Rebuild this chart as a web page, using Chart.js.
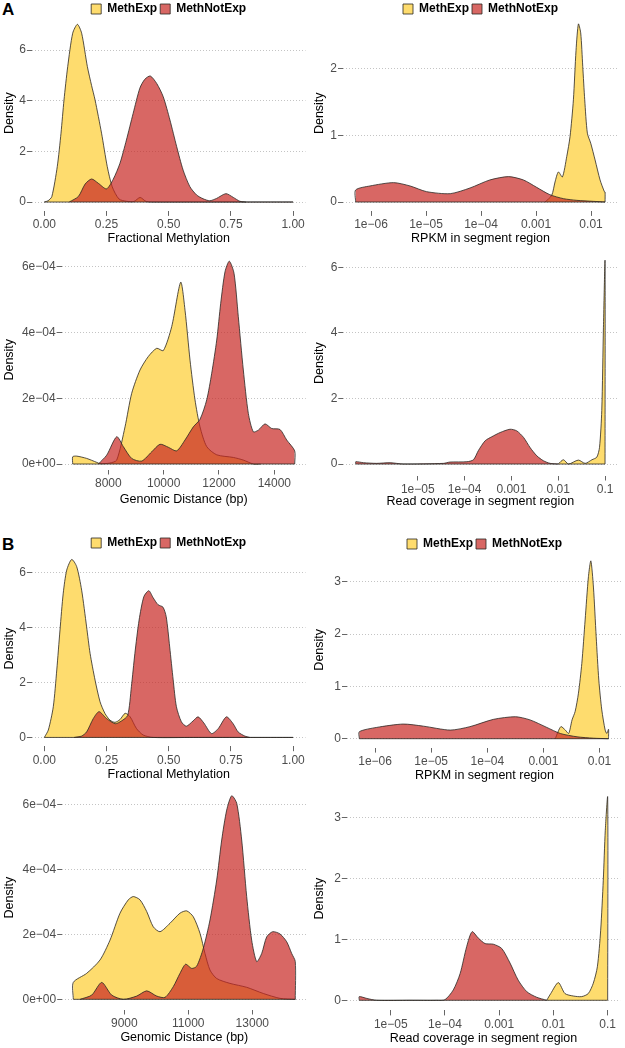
<!DOCTYPE html>
<html>
<head>
<meta charset="utf-8">
<script src="https://cdn.jsdelivr.net/npm/chart.js@4/dist/chart.umd.min.js"></script>
<style>
  body { margin: 0; background: #fff; width: 625px; height: 1048px; position: relative; overflow: hidden;
         font-family: "Liberation Sans", Arial, sans-serif; }
  .tag { position: absolute; font-weight: bold; font-size: 17px; line-height: 17px; color: #000; }
  .cell { position: absolute; }
</style>
</head>
<body>
<div class="tag" style="left:2px;top:1px">A</div>
<div class="tag" style="left:2px;top:536px">B</div>

<script>
const seriesNames = ['MethExp', 'MethNotExp'];

// ---- A: fractional methylation
const fracA_expX = [0, 0.015, 0.03, 0.052, 0.067, 0.079, 0.094, 0.114, 0.133, 0.15, 0.173, 0.19, 0.204, 0.23, 0.253, 0.273, 0.3, 0.33, 0.36, 0.385, 0.41, 0.45, 0.6, 1.0];
const fracA_expY = [0, 0.05, 0.21, 1.4, 2.72, 4.03, 5.35, 6.67, 7.02, 6.67, 5.35, 4.6, 4.03, 2.72, 1.4, 0.6, 0.12, 0.03, 0.02, 0.18, 0.02, 0, 0, 0];
const fracA_notX = [0.1, 0.137, 0.164, 0.19, 0.217, 0.25, 0.277, 0.304, 0.33, 0.357, 0.384, 0.404, 0.426, 0.452, 0.478, 0.505, 0.532, 0.558, 0.585, 0.612, 0.638, 0.665, 0.692, 0.73, 0.76, 0.786, 0.81];
const fracA_notY = [0, 0.22, 0.71, 0.91, 0.74, 0.52, 0.9, 1.53, 2.45, 3.5, 4.5, 4.85, 4.98, 4.68, 4.16, 3.24, 2.19, 1.26, 0.61, 0.28, 0.13, 0.05, 0.14, 0.33, 0.18, 0.03, 0];

// ---- A: RPKM (log10 of the value)
const rpkmA_expLog = [-2.836, -2.715, -2.655, -2.594, -2.521, -2.442, -2.382, -2.321, -2.273, -2.23, -2.188, -2.151, -2.115, -2.067, -2.006, -1.927, -1.836, -1.758, -1.745, -1.745];
const rpkmA_expY = [0, 0.1, 0.3, 0.45, 0.375, 0.68, 0.98, 1.53, 2.27, 2.665, 2.53, 2.03, 1.53, 1.03, 0.88, 0.63, 0.33, 0.155, 0.15, 0];
const rpkmA_notLog = [-6.28, -6.28, -6.02, -5.59, -5.29, -4.99, -4.56, -4.2, -3.84, -3.5, -3.23, -2.99, -2.75, -2.5, -2.26, -1.96, -1.745];
const rpkmA_notY = [0, 0.18, 0.24, 0.29, 0.24, 0.155, 0.125, 0.21, 0.33, 0.38, 0.33, 0.22, 0.11, 0.05, 0.025, 0.01, 0];

// ---- A: genomic distance
const distA_expX = [6713, 6713, 6857, 7219, 7581, 7701, 8061, 8304, 8604, 8845, 9146, 9446, 9749, 9988, 10291, 10616, 10772, 10953, 11133, 11314, 11556, 11918, 12518, 12879, 13240, 13500];
const distA_expY = [0, 0.22e-4, 0.24e-4, 0.17e-4, 0.05e-4, 0.01e-4, 0.03e-4, 0.12e-4, 1.13e-4, 2.15e-4, 2.86e-4, 3.27e-4, 3.52e-4, 3.45e-4, 4.18e-4, 5.53e-4, 4.68e-4, 3.16e-4, 1.95e-4, 1.13e-4, 0.53e-4, 0.28e-4, 0.2e-4, 0.12e-4, 0, 0];
const distA_notX = [7639, 7942, 8304, 8542, 8845, 9207, 9568, 9868, 10168, 10470, 10772, 11072, 11314, 11556, 11737, 11918, 12062, 12218, 12373, 12543, 12698, 12879, 13060, 13240, 13421, 13663, 13905, 14205, 14447, 14736, 14736];
const distA_notY = [0, 0.27e-4, 0.83e-4, 0.53e-4, 0.17e-4, 0.09e-4, 0.37e-4, 0.6e-4, 0.51e-4, 0.4e-4, 0.73e-4, 1.13e-4, 1.36e-4, 1.95e-4, 2.76e-4, 3.77e-4, 4.89e-4, 5.85e-4, 6.17e-4, 5.8e-4, 4.48e-4, 2.86e-4, 1.54e-4, 0.98e-4, 1.03e-4, 1.22e-4, 1.08e-4, 1.05e-4, 0.73e-4, 0.4e-4, 0];

// ---- A: read coverage (log10 of the value)
const covA_expLog = [-2.0, -1.89, -1.78, -1.57, -1.425, -1.28, -1.175, -1.118, -1.07, -1.034, -1.0, -1.0];
const covA_expY = [0, 0.13, 0, 0.12, 0.02, 0.13, 0.21, 0.51, 1.63, 4.17, 6.19, 0];
const covA_notLog = [-6.325, -6.325, -6.16, -5.88, -5.59, -5.31, -4.45, -4.31, -3.95, -3.81, -3.705, -3.56, -3.42, -3.24, -3.03, -2.885, -2.74, -2.6, -2.457, -2.316, -2.173, -2.0];
const covA_notY = [0, 0.07, 0.04, 0.02, 0.04, 0, 0.02, 0.06, 0.07, 0.13, 0.41, 0.71, 0.83, 0.96, 1.06, 1.01, 0.81, 0.5, 0.25, 0.1, 0.02, 0];

// ---- B: fractional methylation
const fracB_expX = [0, 0.016, 0.036, 0.05, 0.063, 0.076, 0.09, 0.11, 0.13, 0.15, 0.17, 0.184, 0.204, 0.224, 0.244, 0.264, 0.284, 0.304, 0.325, 0.345, 0.37, 0.397, 0.437, 0.6, 1.0];
const fracB_expY = [0, 0.27, 1.12, 2.46, 3.92, 5.26, 6.1, 6.49, 6.23, 5.37, 4.03, 3.06, 2.09, 1.3, 0.87, 0.63, 0.55, 0.65, 0.88, 0.75, 0.33, 0.09, 0, 0, 0];
const fracB_notX = [0.12, 0.15, 0.17, 0.197, 0.22, 0.25, 0.285, 0.31, 0.335, 0.35, 0.364, 0.381, 0.4, 0.42, 0.437, 0.457, 0.477, 0.49, 0.504, 0.518, 0.531, 0.551, 0.571, 0.598, 0.618, 0.641, 0.672, 0.699, 0.732, 0.759, 0.779, 0.806, 0.826];
const fracB_notY = [0, 0.05, 0.2, 0.69, 0.94, 0.69, 0.5, 0.6, 0.8, 1.85, 3.06, 4.28, 5.13, 5.35, 5.1, 4.84, 4.75, 4.4, 3.3, 2.1, 1.12, 0.57, 0.41, 0.6, 0.75, 0.53, 0.14, 0.32, 0.75, 0.5, 0.2, 0.05, 0];

// ---- B: RPKM (log10 of the value)
const rpkmB_expLog = [-2.79, -2.69, -2.61, -2.55, -2.49, -2.435, -2.376, -2.316, -2.257, -2.198, -2.155, -2.109, -2.06, -2.013, -1.96, -1.9, -1.87, -1.84, -1.84];
const rpkmB_expY = [0, 0.23, 0.165, 0.1, 0.36, 0.52, 0.87, 1.44, 2.27, 3.1, 3.4, 2.9, 1.95, 1.12, 0.55, 0.165, 0.1, 0.18, 0];
const rpkmB_notLog = [-6.28, -6.28, -5.97, -5.5, -5.14, -4.66, -4.31, -3.89, -3.5, -3.24, -2.94, -2.7, -2.4, -2.11, -1.84];
const rpkmB_notY = [0, 0.134, 0.216, 0.28, 0.24, 0.165, 0.23, 0.37, 0.42, 0.36, 0.216, 0.1, 0.036, 0.01, 0];

// ---- B: genomic distance
const distB_expX = [7406, 7406, 7825, 8241, 8553, 8866, 9125, 9281, 9490, 9700, 9906, 10116, 10428, 10741, 10950, 11156, 11366, 11522, 11678, 11888, 12303, 12825, 13344, 13866, 14344];
const distB_expY = [0, 0.52e-4, 0.8e-4, 1.21e-4, 1.82e-4, 2.65e-4, 3.06e-4, 3.16e-4, 3.06e-4, 2.7e-4, 2.23e-4, 2.08e-4, 2.34e-4, 2.65e-4, 2.72e-4, 2.54e-4, 2.03e-4, 1.41e-4, 0.9e-4, 0.64e-4, 0.49e-4, 0.37e-4, 0.18e-4, 0.03e-4, 0];
const distB_notX = [7619, 7981, 8294, 8606, 8969, 9388, 9700, 10013, 10272, 10531, 10741, 10916, 11106, 11263, 11469, 11678, 11888, 12044, 12200, 12356, 12513, 12669, 12825, 12981, 13138, 13294, 13450, 13638, 13866, 14075, 14231, 14344, 14344];
const distB_notY = [0, 0.13e-4, 0.52e-4, 0.13e-4, 0, 0.1e-4, 0.26e-4, 0.1e-4, 0.06e-4, 0.39e-4, 0.8e-4, 1.08e-4, 0.95e-4, 1.02e-4, 1.57e-4, 2.44e-4, 3.67e-4, 4.9e-4, 5.82e-4, 6.26e-4, 6.03e-4, 4.9e-4, 3.16e-4, 1.82e-4, 1.16e-4, 1.41e-4, 1.92e-4, 2.08e-4, 2.01e-4, 1.77e-4, 1.41e-4, 1.16e-4, 0];

// ---- B: read coverage (log10 of the value)
const covB_expLog = [-2.124, -2.05, -1.91, -1.787, -1.634, -1.48, -1.358, -1.265, -1.19, -1.129, -1.081, -1.044, -1.0, -1.0];
const covB_expY = [0, 0.11, 0.29, 0.11, 0.07, 0.06, 0.11, 0.28, 0.55, 1.15, 1.97, 2.79, 3.33, 0];
const covB_notLog = [-5.58, -5.58, -5.44, -5.26, -4.64, -4.15, -4.0, -3.846, -3.72, -3.6, -3.5, -3.385, -3.26, -3.11, -2.954, -2.8, -2.65, -2.49, -2.31, -2.124];
const covB_notY = [0, 0.06, 0.03, 0, 0, 0, 0.01, 0.17, 0.44, 0.88, 1.125, 1.02, 0.93, 0.92, 0.85, 0.61, 0.33, 0.14, 0.05, 0];

// ---- axis ticks
const fracTicks = [0, 0.25, 0.5, 0.75, 1];
const fracTickLabels = ['0.00', '0.25', '0.50', '0.75', '1.00'];
const rpkmTicksLog = [-6, -5, -4, -3, -2];
const rpkmTickLabels = ['1e\u221206', '1e\u221205', '1e\u221204', '0.001', '0.01'];
const covTicksLog = [-5, -4, -3, -2, -1];
const covTickLabels = ['1e\u221205', '1e\u221204', '0.001', '0.01', '0.1'];
const distA_ticks = [8000, 10000, 12000, 14000];
const distB_ticks = [9000, 11000, 13000];
const distDensTicks = [0, 2e-4, 4e-4, 6e-4];
const distDensLabels = ['0e+00', '2e\u221204', '4e\u221204', '6e\u221204'];

const YELLOW = '#fedc6e';
const RED = 'rgba(200, 39, 34, 0.7)';
const EDGE = '#2a2622';

Chart.defaults.font.family = '"Liberation Sans", Arial, sans-serif';
Chart.defaults.animation = false;

function densityPanel(p) {
  const [bl, bt, bw, bh] = p.box;
  const [al, at, ar, ab] = p.area;
  const cell = document.createElement('div');
  cell.className = 'cell';
  cell.style.cssText = `left:${bl}px;top:${bt}px;width:${bw}px;height:${bh}px`;
  const canvas = document.createElement('canvas');
  cell.appendChild(canvas);
  document.body.appendChild(cell);

  const toX = p.log ? v => Math.pow(10, v) : v => v;
  const pts = (xs, ys) => xs.map((x, i) => ({ x: toX(x), y: ys[i] }));
  const allX = p.exp[0].concat(p.not[0]);
  const base = [{ x: toX(Math.min(...allX)), y: 0 }, { x: toX(Math.max(...allX)), y: 0 }];
  const curve = { fill: 'origin', pointRadius: 0, borderWidth: 0.8, borderColor: EDGE, tension: 0.25 };

  new Chart(canvas, {
    type: 'line',
    data: {
      datasets: [
        { ...curve, label: seriesNames[0], data: pts(p.exp[0], p.exp[1]), backgroundColor: YELLOW, order: 2 },
        { ...curve, label: seriesNames[1], data: pts(p.not[0], p.not[1]), backgroundColor: RED, order: 1 },
        { label: 'base', data: base, fill: false, pointRadius: 0, borderWidth: 0.8, borderColor: EDGE, order: 0 }
      ]
    },
    options: {
      responsive: true,
      maintainAspectRatio: false,
      events: [],
      layout: { padding: { left: 0, top: p.legend ? 0 : at - bt, right: bl + bw - ar, bottom: 0 } },
      plugins: {
        tooltip: { enabled: false },
        legend: {
          display: !!p.legend,
          position: 'top',
          fullSize: false,
          maxHeight: at - bt,
          labels: {
            boxWidth: 10, boxHeight: 10, padding: 3, color: '#000',
            font: { size: 12, weight: 'bold' },
            filter: item => item.datasetIndex < 2,
            sort: (a, b) => a.datasetIndex - b.datasetIndex
          }
        }
      },
      scales: {
        x: {
          type: p.log ? 'logarithmic' : 'linear',
          min: toX(p.xRange[0]), max: toX(p.xRange[1]),
          afterBuildTicks: s => { s.ticks = p.xTicks.map(v => ({ value: toX(v) })); },
          afterFit: s => { s.height = bt + bh - ab; },
          ticks: { autoSkip: false, maxRotation: 0, padding: 2, color: '#4d4d4d', font: { size: 12 },
                   callback: (v, i) => p.xLabels[i] },
          grid: { drawOnChartArea: false, drawTicks: true, tickLength: 5, tickColor: '#666', tickWidth: 1 },
          border: { display: false },
          title: { display: true, text: p.xTitle, color: '#000', font: { size: 12.5 }, padding: { top: 0, bottom: 0 } }
        },
        y: {
          min: p.yRange[0], max: p.yRange[1],
          afterBuildTicks: s => { s.ticks = p.yTicks.map(v => ({ value: v })); },
          afterFit: s => { s.width = al - bl; },
          ticks: { padding: 1, color: '#4d4d4d', font: { size: 12 }, callback: (v, i) => p.yLabels[i] },
          grid: { color: '#c4c4c4', lineWidth: 1, drawTicks: true, tickLength: 5, tickColor: '#666', tickWidth: 1, tickBorderDash: [] },
          border: { display: false, dash: [1, 2] },
          title: { display: true, text: 'Density', color: '#000', font: { size: 12.5 }, padding: { top: 2, bottom: 0 } }
        }
      }
    }
  });
}

const simpleLabels = ticks => ticks.map(String);

densityPanel({ box: [0, 0, 310, 246], area: [31.9, 15.5, 305.5, 210.9], legend: true,
  exp: [fracA_expX, fracA_expY], not: [fracA_notX, fracA_notY],
  xRange: [-0.05, 1.05], xTicks: fracTicks, xLabels: fracTickLabels, xTitle: 'Fractional Methylation',
  yRange: [-0.351, 7.37], yTicks: [0, 2, 4, 6], yLabels: simpleLabels([0, 2, 4, 6]) });

densityPanel({ box: [310, 0, 315, 246], area: [343, 15.6, 618, 210.9], legend: true, log: true,
  exp: [rpkmA_expLog, rpkmA_expY], not: [rpkmA_notLog, rpkmA_notY],
  xRange: [-6.51, -1.51], xTicks: rpkmTicksLog, xLabels: rpkmTickLabels, xTitle: 'RPKM in segment region',
  yRange: [-0.133, 2.79], yTicks: [0, 1, 2], yLabels: simpleLabels([0, 1, 2]) });

densityPanel({ box: [0, 240, 310, 267], area: [61.6, 250, 305.8, 469.5],
  exp: [distA_expX, distA_expY], not: [distA_notX, distA_notY],
  xRange: [6312, 15137], xTicks: distA_ticks, xLabels: simpleLabels(distA_ticks), xTitle: 'Genomic Distance (bp)',
  yRange: [-0.167e-4, 6.51e-4], yTicks: distDensTicks, yLabels: distDensLabels });

densityPanel({ box: [310, 240, 315, 269], area: [343.3, 250.8, 617.5, 475.5], log: true,
  exp: [covA_expLog, covA_expY], not: [covA_notLog, covA_notY],
  xRange: [-6.59, -0.734], xTicks: covTicksLog, xLabels: covTickLabels, xTitle: 'Read coverage in segment region',
  yRange: [-0.35, 6.5], yTicks: [0, 2, 4, 6], yLabels: simpleLabels([0, 2, 4, 6]) });

densityPanel({ box: [0, 534, 310, 248], area: [31.9, 551.2, 305.5, 746.2], legend: true,
  exp: [fracB_expX, fracB_expY], not: [fracB_notX, fracB_notY],
  xRange: [-0.05, 1.05], xTicks: fracTicks, xLabels: fracTickLabels, xTitle: 'Fractional Methylation',
  yRange: [-0.32, 6.79], yTicks: [0, 2, 4, 6], yLabels: simpleLabels([0, 2, 4, 6]) });

densityPanel({ box: [310, 535, 315, 248], area: [347, 552, 622, 747.6], legend: true, log: true,
  exp: [rpkmB_expLog, rpkmB_expY], not: [rpkmB_notLog, rpkmB_notY],
  xRange: [-6.5, -1.6], xTicks: rpkmTicksLog, xLabels: rpkmTickLabels, xTitle: 'RPKM in segment region',
  yRange: [-0.17, 3.57], yTicks: [0, 1, 2, 3], yLabels: simpleLabels([0, 1, 2, 3]) });

densityPanel({ box: [0, 775, 310, 270], area: [62.2, 785.7, 306.4, 1009.5],
  exp: [distB_expX, distB_expY], not: [distB_notX, distB_notY],
  xRange: [7059, 14691], xTicks: distB_ticks, xLabels: simpleLabels(distB_ticks), xTitle: 'Genomic Distance (bp)',
  yRange: [-0.313e-4, 6.57e-4], yTicks: distDensTicks, yLabels: distDensLabels });

densityPanel({ box: [310, 775, 315, 271], area: [346.8, 786.9, 620.1, 1010.4], log: true,
  exp: [covB_expLog, covB_expY], not: [covB_notLog, covB_notY],
  xRange: [-5.81, -0.771], xTicks: covTicksLog, xLabels: covTickLabels, xTitle: 'Read coverage in segment region',
  yRange: [-0.166, 3.5], yTicks: [0, 1, 2, 3], yLabels: simpleLabels([0, 1, 2, 3]) });
</script>
</body>
</html>
